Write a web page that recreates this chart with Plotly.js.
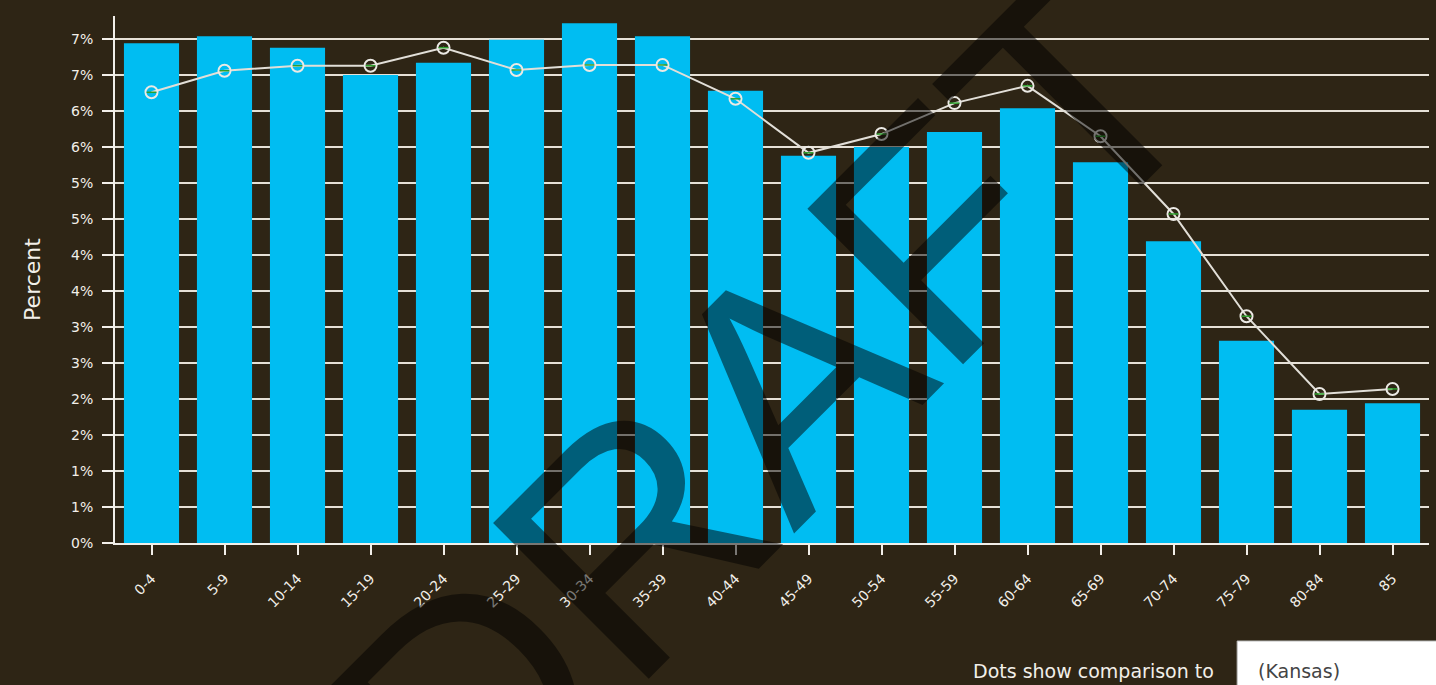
<!DOCTYPE html>
<html>
<head>
<meta charset="utf-8">
<script src="https://cdn.plot.ly/plotly-3.0.1.min.js"></script>
<style>
html,body{margin:0;padding:0;background:#2e2515;}
#chart{width:1436px;height:685px;}
</style>
</head>
<body>
<div id="chart"></div>
<script>
// Age groups
const ageGroups = ["0-4","5-9","10-14","15-19","20-24","25-29","30-34","35-39","40-44","45-49","50-54","55-59","60-64","65-69","70-74","75-79","80-84","85"];
// Bars: share of population (%)
const barValues = [6.94, 7.04, 6.88, 6.50, 6.67, 6.99, 7.22, 7.04, 6.28, 5.38, 5.50, 5.71, 6.04, 5.29, 4.19, 2.81, 1.85, 1.94];
// Dots: comparison (Kansas) (%)
const dotValues = [6.26, 6.56, 6.63, 6.63, 6.88, 6.57, 6.64, 6.64, 6.17, 5.42, 5.68, 6.11, 6.35, 5.65, 4.57, 3.15, 2.07, 2.14];
// Y tick values and labels
const yTickVals = [0, 0.5, 1, 1.5, 2, 2.5, 3, 3.5, 4, 4.5, 5, 5.5, 6, 6.5, 7];
const yTickLabels = ["0%","1%","1%","2%","2%","3%","3%","4%","4%","5%","5%","6%","6%","7%","7%"];

const bg = "#2e2515";
const fg = "#f2efe9";
const font = "DejaVu Sans, Verdana, sans-serif";
const wmFont = "Liberation Sans, Arial, sans-serif";

const traces = [
  {
    type: "bar", x: ageGroups, y: barValues,
    marker: {color: "#00bdf2"}, hoverinfo: "skip"
  },
  {
    type: "scatter", mode: "lines+markers", x: ageGroups, y: dotValues,
    line: {color: "#e2dfd8", width: 2},
    marker: {symbol: "circle-open", size: 12, color: "#eceae5", line: {width: 2, color: "#eceae5"}},
    hoverinfo: "skip"
  },
  {
    type: "scatter", mode: "markers", x: ageGroups, y: dotValues,
    marker: {symbol: "line-ew-open", size: 7, line: {width: 1.5, color: "#d8d4cc"}},
    hoverinfo: "skip"
  }
];

const layout = {
  width: 1436, height: 685,
  paper_bgcolor: bg, plot_bgcolor: bg,
  margin: {l: 115, r: 7, t: 16, b: 142},
  showlegend: false,
  bargap: 0.245,
  font: {family: font, color: fg},
  xaxis: {
    type: "category",
    range: [-0.5, ageGroups.length - 0.5],
    showgrid: false, zeroline: false,
    showline: true, linecolor: fg, linewidth: 2,
    ticks: "outside", ticklen: 10, tickwidth: 2, tickcolor: fg,
    tickangle: -45, ticklabelstandoff: 10,
    tickfont: {family: font, size: 14, color: fg},
    automargin: false
  },
  yaxis: {
    range: [0, 7.32],
    tickmode: "array", tickvals: yTickVals, ticktext: yTickLabels,
    showgrid: true, gridcolor: "#e6e1d7", gridwidth: 2,
    zeroline: false,
    showline: true, linecolor: fg, linewidth: 2,
    ticks: "outside", ticklen: 11, tickwidth: 2, tickcolor: fg,
    ticklabelstandoff: 6,
    tickfont: {family: font, size: 14, color: fg},
    title: {text: "Percent", font: {family: font, size: 22, color: fg}, standoff: 24},
    automargin: false
  },
  shapes: [
    {type: "rect", xref: "paper", yref: "paper", x0: 0.854, x1: 1.01, y0: -0.29, y1: -0.186,
     fillcolor: "#ffffff", line: {color: "#bdbdbd", width: 1}, layer: "above"}
  ],
  annotations: [
    {xref: "paper", yref: "paper", x: 0.838, y: -0.243, xanchor: "right", yanchor: "middle",
     text: "Dots show comparison to", showarrow: false,
     font: {family: font, size: 19, color: fg}},
    {xref: "paper", yref: "paper", x: 0.868, y: -0.243, xanchor: "left", yanchor: "middle",
     text: "(Kansas)", showarrow: false,
     font: {family: font, size: 19, color: "#444444"}},
    {xref: "paper", yref: "paper", x: 0.495, y: 0.262, xanchor: "center", yanchor: "middle",
     text: "DRAFT", showarrow: false, textangle: -45,
     font: {family: wmFont, size: 320, color: "rgba(0,0,0,0.5)"}}
  ]
};

Plotly.newPlot("chart", traces, layout, {displayModeBar: false, staticPlot: true});
</script>
</body>
</html>
